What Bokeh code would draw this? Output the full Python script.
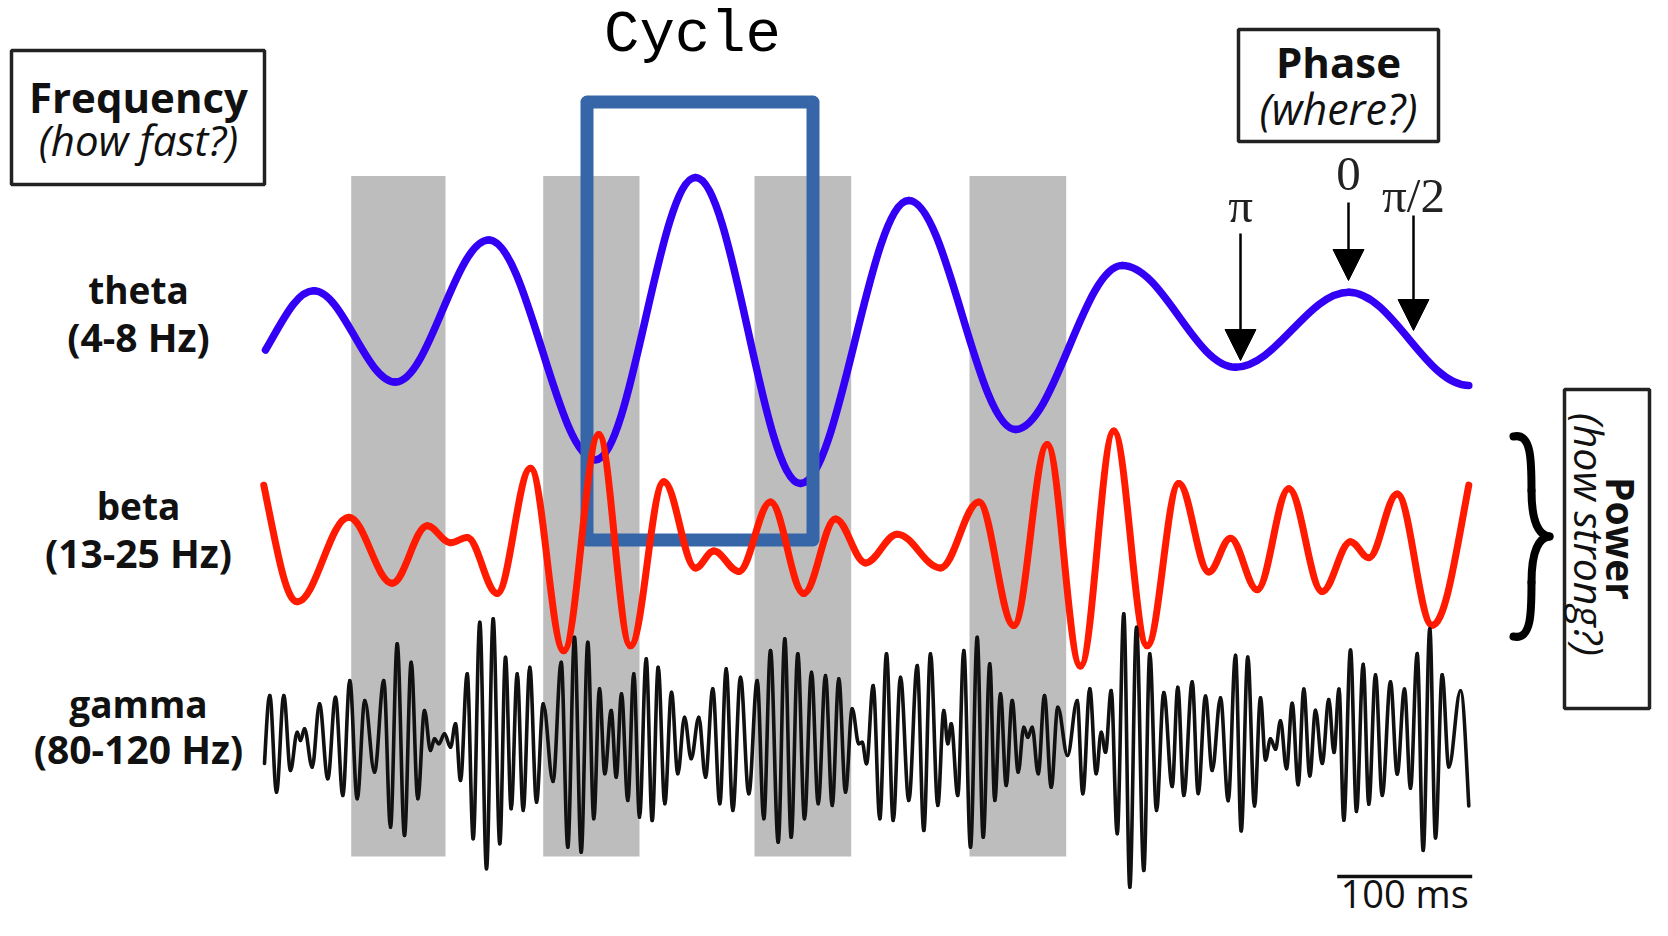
from bokeh.plotting import figure
from bokeh.models import Range1d, ColumnDataSource, Arrow, NormalHead
from bokeh.core.properties import value
from bokeh.embed import file_html
from bokeh.resources import INLINE
import math

# ---------------- data (picture-pixel units) ----------------
shade_start = [350.7, 542.7, 754.0, 969.0]
shade_end = [445.0, 639.0, 850.7, 1065.7]

theta_x = [265, 313.3, 395, 488.3, 595, 695, 800, 908.3, 1015, 1121.7, 1235, 1348.3, 1468.3]
theta_y = [349.5, 290.3, 381.6, 239.6, 459.3, 177, 483, 200, 428.9, 265, 366.7, 291.7, 385]

beta_x = [263.3, 296.7, 348.3, 391.7, 426.7, 450, 466.7, 496.7, 530, 563.3, 598.3, 630, 663.3, 695,
          713.3, 738.3, 770, 803.3, 835, 865, 896.7, 940, 978.3, 1013.3, 1046.7, 1080, 1113.3, 1146.7,
          1178.3, 1208.3, 1230, 1256.7, 1288.3, 1321.7, 1350, 1368.3, 1396.7, 1431.7, 1468.3]
beta_y = [484.7, 601.3, 516.8, 582.7, 525.3, 542.2, 537.1, 592.9, 467.8, 650.3, 434, 645.3, 481.3, 567.5,
          550.6, 570.9, 501.6, 592.9, 518.5, 562.4, 533.7, 567.5, 501.6, 625, 444.1, 665.6, 430.6, 645.3,
          483, 571.5, 537.8, 589.2, 488.2, 591, 541.3, 557.3, 493.5, 624.7, 484.6]

gamma_x = [264, 269.3, 276, 283.3, 290, 296.7, 300, 304, 311.7, 319, 327.3, 335, 342.3, 349.3, 356.7,
           364.3, 374, 383.3, 390, 396.7, 404, 410.7, 417.3, 424, 430, 434, 438.3, 444, 450, 455, 460,
           466.7, 472.7, 479.3, 486, 492.7, 499.3, 505, 510.7, 516.7, 522.7, 529.3, 536, 542.7, 552.5,
           560.7, 567.3, 574, 580.7, 587.3, 593.3, 599, 604.3, 610.7, 615.7, 621, 627.3, 633.3, 639,
           645.7, 651.7, 657.7, 664.3, 671, 677.3, 684, 690.7, 698.3, 705, 712.3, 719.3, 725.7, 732.3,
           740, 748.3, 756.7, 763.3, 770, 777.7, 784.3, 790.7, 797.3, 804, 811, 817.7, 825, 831.7,
           838.3, 845, 851.7,
           858.3, 861.7, 866, 872.7, 879.3, 886, 892.7, 900, 908.3, 916.7, 923.3, 930, 937.3, 943.3,
           947.3, 950.7, 957.3, 963.3, 970, 976.7, 982.7, 989.3, 994.3, 1000, 1005.7, 1011.7, 1017.7,
           1023.3, 1027.3, 1031.7, 1037.7, 1044, 1050.7, 1057.3, 1067, 1076.7, 1082.3, 1089.3, 1095.7,
           1100.7, 1105, 1110.7, 1116.7, 1123.3, 1129.3, 1136, 1143.3, 1149.3, 1156,
           1163.3, 1171.7, 1177.3, 1183.3, 1191.7, 1197.7, 1205, 1211.7, 1220, 1227.7, 1235, 1240.7,
           1247.3, 1254, 1260, 1265, 1270, 1275, 1280, 1286, 1291.7, 1297.7, 1303.3, 1309.3, 1315,
           1321.7, 1328.3, 1333.5, 1338.5, 1343.3, 1350, 1356, 1362.7, 1368.3, 1375, 1381.7, 1390,
           1396.7, 1404, 1410, 1416.7, 1422.7, 1429.3, 1435, 1441.7, 1448.3, 1460, 1468.3]
gamma_y = [763, 695, 791.7, 695, 770, 731.7, 740, 728.3, 766.7, 703.3, 778.3, 696.7, 795, 680, 798.3,
           700, 771.7, 680, 826.7, 643.3, 835, 661.7, 798.3, 710, 750, 738.3, 743.3, 733.3, 746.7, 723.3, 780,
           673.3, 838.3, 621.7, 868.3, 618.3, 843.3, 656.7, 808.3, 673.3, 810, 666.7, 801.7, 703.3, 781,
           661.7, 846.7, 636.7, 851.7, 641.7, 818.3, 688.3, 773.3, 710, 776.7, 693.3, 800, 673.3, 816.7,
           658.3, 820, 666.7, 803.3, 691.7, 773.3, 716.7, 758.3, 716.7, 776.7, 688.3, 803.3, 668.3, 810,
           676.7, 793.3, 680, 818.3, 650, 841.7, 638.3, 836.7, 653.3, 818.3, 671.7, 803.3, 675, 805,
           678.3, 791.7, 708.3,
           743.3, 741.7, 763.3, 685, 818.3, 653.3, 820, 676.7, 800, 665, 830, 653.3, 805, 710,
           743.3, 723.3, 795, 650, 846.7, 636.7, 836.7, 663.3, 800, 693.3, 785, 700, 771.7,
           726.7, 736.7, 726.7, 773.3, 695, 786.7, 706.7, 755, 700, 793.3, 688.3, 773.3,
           731.7, 751.7, 690, 833.3, 613.3, 886.7, 626.7, 870, 653.3, 810,
           692, 786, 686.7, 794.9, 681.4, 793.1, 695.6, 770, 697.4, 800.2, 654.8, 830.4,
           656.6, 805.5, 697.4, 759.4, 738.2, 748.8, 720.4, 768.3, 702.7, 784.3, 688.5, 775.4, 709.8,
           763, 699.1, 752, 688.5, 819.7, 649.5, 810.9, 663.7, 803.8, 674.3, 794.9, 681.4,
           773.6, 688.5, 787.8, 653, 849.9, 628.2, 837.4, 674.3, 766.5, 690.3, 805.5]

band_names = ["theta", "beta", "gamma"]
band_ranges = ["(4-8 Hz)", "(13-25 Hz)", "(80-120 Hz)"]

phase_labels = ["\u03c0", "0", "\u03c0/2"]
phase_x = [1240, 1348, 1413]
phase_arrow_top = [233, 202, 215]
phase_arrow_tip = [360, 280, 330]

scale_ms = 100
scale_x0, scale_x1 = 1336.7, 1471.7

# ---------------- helpers ----------------
def bezier_source(xs, ys, k=0.36, free_start=False, free_end=False):
    d = dict(x0=[], y0=[], x1=[], y1=[], cx0=[], cy0=[], cx1=[], cy1=[])
    n = len(xs)
    for i in range(n - 1):
        x0, y0, x1, y1 = xs[i], ys[i], xs[i + 1], ys[i + 1]
        dx, dy = x1 - x0, y1 - y0
        cy0 = y0 + 0.5 * dy if (i == 0 and free_start) else y0
        cy1 = y1 - 0.5 * dy if (i == n - 2 and free_end) else y1
        d["x0"].append(x0); d["y0"].append(y0)
        d["x1"].append(x1); d["y1"].append(y1)
        d["cx0"].append(x0 + k * dx); d["cy0"].append(cy0)
        d["cx1"].append(x1 - k * dx); d["cy1"].append(cy1)
    return ColumnDataSource(d)

SANS = value("Open Sans")
INK = "#111111"

p = figure(width=1652, height=920, x_range=Range1d(0, 1652), y_range=Range1d(920, 0),
           output_backend="svg", toolbar_location=None, min_border=0,
           x_axis_type=None, y_axis_type=None)
p.grid.visible = False
p.outline_line_color = None
p.background_fill_color = "white"

# shaded windows
p.quad(left=shade_start, right=shade_end, top=175.4, bottom=856,
       fill_color="#bdbdbd", line_color=None)

# theta
p.bezier(x0="x0", y0="y0", x1="x1", y1="y1", cx0="cx0", cy0="cy0", cx1="cx1", cy1="cy1",
         source=bezier_source(theta_x, theta_y, free_start=True),
         line_color="#3300f5", line_width=7.5, line_cap="round")

# cycle box
p.quad(left=586.5, right=812.5, top=101.5, bottom=539.5, fill_alpha=0,
       line_color="#3766a8", line_width=13, line_join="round")

# beta
p.bezier(x0="x0", y0="y0", x1="x1", y1="y1", cx0="cx0", cy0="cy0", cx1="cx1", cy1="cy1",
         source=bezier_source(beta_x, beta_y, free_start=True, free_end=True),
         line_color="#ff1a00", line_width=7, line_cap="round")

# gamma
p.bezier(x0="x0", y0="y0", x1="x1", y1="y1", cx0="cx0", cy0="cy0", cx1="cx1", cy1="cy1",
         source=bezier_source(gamma_x, gamma_y, free_start=True, free_end=True),
         line_color=INK, line_width=3.6, line_cap="round")

# title
p.text(x=[692], y=[35], text=["Cycle"], text_font=value("Liberation Mono"),
       text_font_size="59px", text_align="center", text_baseline="middle", text_color="black")

# Frequency box
p.quad(left=11, right=264, top=50, bottom=184, fill_alpha=0, line_color="#222222", line_width=3.5)
p.text(x=[138], y=[96], text=["Frequency"], text_font=SANS, text_font_style="bold",
       text_font_size="42px", text_align="center", text_baseline="middle", text_color=INK)
p.text(x=[138], y=[139], text=["(how fast?)"], text_font=SANS, text_font_style="italic",
       text_font_size="42px", text_align="center", text_baseline="middle", text_color=INK)

# Phase box
p.quad(left=1238, right=1438, top=29, bottom=141, fill_alpha=0, line_color="#222222", line_width=3.5)
p.text(x=[1338], y=[61], text=["Phase"], text_font=SANS, text_font_style="bold",
       text_font_size="42px", text_align="center", text_baseline="middle", text_color=INK)
p.text(x=[1338], y=[108], text=["(where?)"], text_font=SANS, text_font_style="italic",
       text_font_size="43px", text_align="center", text_baseline="middle", text_color=INK)

# phase labels and arrows
p.text(x=phase_x, y=[205, 173, 195], text=phase_labels, text_font=value("Liberation Serif"),
       text_font_size="49px", text_align="center", text_baseline="middle", text_color="#222222")
for xa, ya, yb in zip(phase_x, phase_arrow_top, phase_arrow_tip):
    p.add_layout(Arrow(end=NormalHead(size=31, fill_color="black", line_color="black"),
                       x_start=xa, y_start=ya, x_end=xa, y_end=yb,
                       line_width=2.5, line_color="black"))

# band labels
p.text(x=[138, 138, 138], y=[289, 505, 703], text=band_names, text_font=SANS,
       text_font_style="bold", text_font_size="37px", text_align="center",
       text_baseline="middle", text_color=INK)
p.text(x=[138, 138, 138], y=[336, 552, 748], text=band_ranges, text_font=SANS,
       text_font_style="bold", text_font_size="39px", text_align="center",
       text_baseline="middle", text_color=INK)

# Power box
p.quad(left=1564, right=1649, top=389, bottom=708, fill_alpha=0, line_color="#222222", line_width=3.5)
p.text(x=[1621], y=[538], text=["Power"], text_font=SANS, text_font_style="bold",
       text_font_size="39px", text_align="center", text_baseline="middle",
       angle=-math.pi / 2, text_color=INK)
p.text(x=[1589], y=[534], text=["(how strong?)"], text_font=SANS, text_font_style="italic",
       text_font_size="41px", text_align="center", text_baseline="middle",
       angle=-math.pi / 2, text_color=INK)

# brace
bx, btop, bmid, bbot = 1531, 436, 536, 636
p.bezier(x0=[bx - 18, bx, bx + 18, bx], y0=[btop, 490, bmid, 582],
         x1=[bx, bx + 18, bx, bx - 18], y1=[490, bmid, 582, bbot],
         cx0=[bx, bx, bx + 9, bx], cy0=[btop - 4, 525, bmid + 1, 612],
         cx1=[bx, bx + 9, bx, bx], cy1=[460, bmid - 1, 547, bbot + 4],
         line_color="black", line_width=8, line_cap="round")

# scale bar
p.segment(x0=[scale_x0], y0=[876], x1=[scale_x1], y1=[876], line_color=INK, line_width=3.5)
p.text(x=[(scale_x0 + scale_x1) / 2], y=[892], text=[f"{scale_ms} ms"], text_font=SANS,
       text_font_size="38px", text_align="center", text_baseline="middle", text_color=INK)

open("out.html", "w").write(file_html(p, INLINE))
